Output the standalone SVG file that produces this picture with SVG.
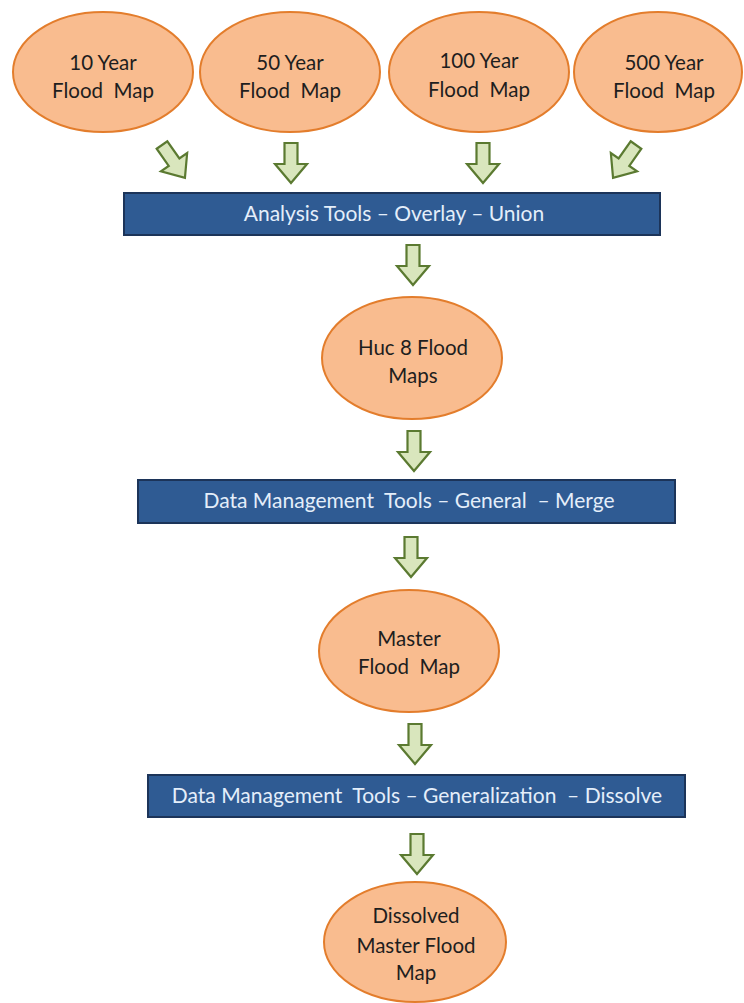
<svg xmlns="http://www.w3.org/2000/svg" width="744" height="1003" viewBox="0 0 744 1003">
<style>
.ell{fill:#f9bc8f;stroke:#e37d2c;stroke-width:2}
.bar{fill:#2f5b93;stroke:#1c3459;stroke-width:2}
.arr{fill:#d9e6bd;stroke:#5b7a31;stroke-width:2.2;stroke-linejoin:miter}
.t{font-family:Lato,"Open Sans","Liberation Sans",sans-serif;font-size:20.5px;fill:#1e1e1e;text-anchor:middle;white-space:pre}
.bt{font-family:Lato,"Open Sans","Liberation Sans",sans-serif;font-size:21px;fill:#e4eefa;text-anchor:middle;white-space:pre}
</style>
<defs>
<path id="ar" d="M -6.5,0 H 6.5 V 21 H 16 L 0,40 L -16,21 H -6.5 Z"/>
</defs>
<rect width="744" height="1003" fill="#ffffff"/>
<g id="connectors">
<use href="#ar" class="arr" transform="translate(162,145) rotate(-35)"/>
<use href="#ar" class="arr" transform="translate(291,143)"/>
<use href="#ar" class="arr" transform="translate(483,143)"/>
<use href="#ar" class="arr" transform="translate(636,145) rotate(35)"/>
<use href="#ar" class="arr" transform="translate(413,245)"/>
<use href="#ar" class="arr" transform="translate(414,431)"/>
<use href="#ar" class="arr" transform="translate(411,537)"/>
<use href="#ar" class="arr" transform="translate(415,724)"/>
<use href="#ar" class="arr" transform="translate(417,834)"/>
</g>
<g id="n10">
<ellipse class="ell" cx="103" cy="72" rx="90" ry="60"/>
<text class="t" x="103" y="70">10 Year</text>
<text class="t" x="103" y="98">Flood  Map</text>
</g>
<g id="n50">
<ellipse class="ell" cx="290" cy="72" rx="90" ry="60"/>
<text class="t" x="290" y="70">50 Year</text>
<text class="t" x="290" y="98">Flood  Map</text>
</g>
<g id="n100">
<ellipse class="ell" cx="479" cy="72" rx="90" ry="60"/>
<text class="t" x="479" y="68">100 Year</text>
<text class="t" x="479" y="97">Flood  Map</text>
</g>
<g id="n500">
<ellipse class="ell" cx="658" cy="72" rx="84" ry="60"/>
<text class="t" x="664" y="70">500 Year</text>
<text class="t" x="664" y="98">Flood  Map</text>
</g>
<g id="union">
<rect class="bar" x="124" y="193" width="536" height="42"/>
<text class="bt" x="394" y="221">Analysis Tools – Overlay – Union</text>
</g>
<g id="huc8">
<ellipse class="ell" cx="412" cy="358" rx="90" ry="61"/>
<text class="t" x="413" y="355">Huc 8 Flood</text>
<text class="t" x="413" y="383">Maps</text>
</g>
<g id="merge">
<rect class="bar" x="138" y="480" width="537" height="43"/>
<text class="bt" x="409" y="508">Data Management  Tools – General  – Merge</text>
</g>
<g id="master">
<ellipse class="ell" cx="409" cy="651" rx="90" ry="61"/>
<text class="t" x="409" y="646">Master</text>
<text class="t" x="409" y="674">Flood  Map</text>
</g>
<g id="dissolve">
<rect class="bar" x="148" y="775" width="537" height="42"/>
<text class="bt" x="417" y="803">Data Management  Tools – Generalization  – Dissolve</text>
</g>
<g id="dissolved">
<ellipse class="ell" cx="415" cy="942" rx="91" ry="60"/>
<text class="t" x="416" y="923">Dissolved</text>
<text class="t" x="416" y="953">Master Flood</text>
<text class="t" x="416" y="980">Map</text>
</g>
</svg>
